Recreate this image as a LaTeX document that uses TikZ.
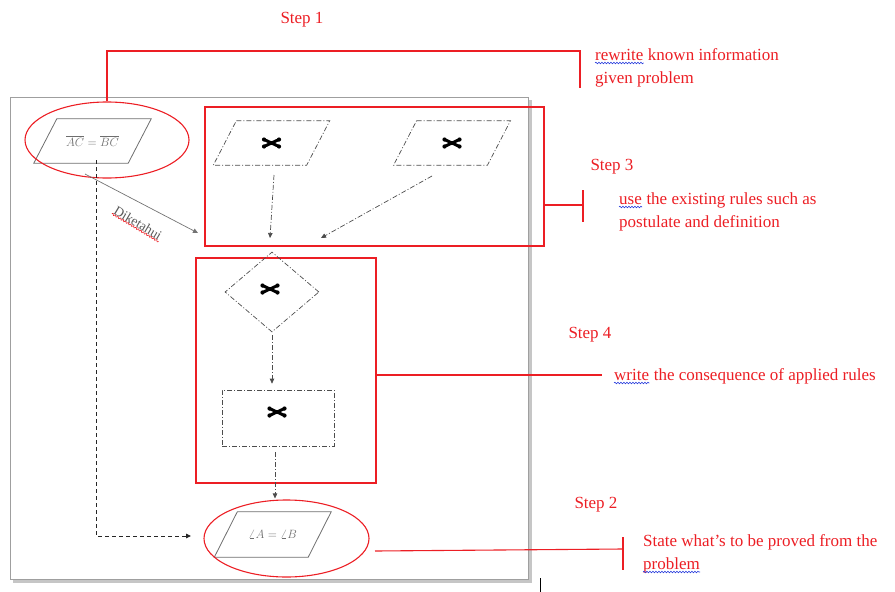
\documentclass[tikz,border=0pt]{standalone}
\usepackage{fontspec}
\setmainfont{Liberation Serif}
\usetikzlibrary{arrows.meta,shapes.geometric,decorations.pathmorphing,calc}
\definecolor{rd}{RGB}{236,30,36}
\definecolor{gr}{RGB}{110,110,110}
\definecolor{wv}{RGB}{40,60,220}
\tikzset{
  redln/.style={draw=rd, line width=1.1pt},
  lbl/.style={text=rd, font=\fontsize{17}{20}\selectfont, inner sep=0pt, anchor=base west},
  steplbl/.style={text=rd, font=\fontsize{17}{20}\selectfont, inner sep=0pt},
  ddot/.style={draw=black!70, line width=0.7pt, dash pattern=on 5pt off 2pt on 1pt off 2pt},
  pbody/.style={rectangle, minimum width=#1, minimum height=44, inner sep=0pt},
  grline/.style={draw=gr, line width=0.8pt},
  grtext/.style={text=gr, font=\fontsize{12.5}{14}\selectfont},
  redell/.style={ellipse, draw=rd, line width=1.1pt, inner sep=0pt},
  redbox/.style={rectangle, draw=rd, line width=1.1pt, inner sep=0pt},
  wavyb/.style={draw=wv, line width=0.6pt, decorate, decoration={snake, amplitude=0.8pt, segment length=3pt}},
  wavyr/.style={draw=rd, line width=0.6pt, decorate, decoration={snake, amplitude=0.8pt, segment length=3pt}},
  tip/.style={-{Triangle[length=5pt,width=4.5pt]}},
  xmark/.pic={
    \draw[line width=3pt, line cap=round] (-7.5,-3.5)--(7.5,3.5) (-7.5,3.5)--(7.5,-3.5);
    \fill (-7.5,-3.5) circle (2.1) (7.5,3.5) circle (2.1) (-7.5,3.5) circle (2.1) (7.5,-3.5) circle (2.1);
  }
}
\newcommand\drawpgram[2]{\draw[#2] ($(#1.north west)+(11.5,0)$) -- ($(#1.north east)+(11.5,0)$) -- ($(#1.south east)+(-11.5,0)$) -- ($(#1.south west)+(-11.5,0)$) -- cycle;}
\begin{document}
\begin{tikzpicture}[x=1pt,y=-1pt]
\useasboundingbox (0,0) rectangle (895,592);
% frame
\draw[gray!45, line width=3pt] (13,581) -- (530,581) -- (530,100);
\draw[gray!75, line width=0.8pt] (10,97) rectangle (528,579);
\draw[black, line width=0.8pt] (540,578) -- (540,592);

% step 1 area
\node[pbody=94, grtext] (n1) at (92.5,141) {$\overline{AC}=\overline{BC}$};
\drawpgram{n1}{grline}
\node[redell, minimum width=164, minimum height=76] (e1) at (107,140) {};

% step 3 box
\node[redbox, minimum width=339, minimum height=139] (s3) at (374.5,176.5) {};
\node[pbody=93] (pa) at (271.5,143) {};
\node[pbody=93.5] (pb) at (452,143) {};
\drawpgram{pa}{ddot}
\drawpgram{pb}{ddot}
\pic at (pa.center) {xmark};
\pic at (pb.center) {xmark};
\coordinate (a1s) at (274,175);
\coordinate (a1e) at (270,238);
\coordinate (a2s) at (432,176);
\coordinate (a2e) at (321,238);
\draw[ddot, tip] (a1s) -- (a1e);
\draw[ddot, tip] (a2s) -- (a2e);

% step 4 box
\node[redbox, minimum width=180, minimum height=225] (s4) at (286,370.5) {};
\node[diamond, ddot, minimum width=94, minimum height=80, inner sep=0pt] (dm) at (272,292) {};
\node[rectangle, ddot, minimum width=112, minimum height=56, inner sep=0pt] (rc) at (278,418) {};
\pic at (270,289) {xmark};
\pic at (277,412) {xmark};
\draw[ddot, tip, shorten <=3pt, shorten >=6pt] (dm.south) -- (dm.south |- rc.north);

% step 2
\node[pbody=93.5, minimum height=45, grtext] (p2) at (272.75,534.5) {$\angle A=\angle B$};
\drawpgram{p2}{grline}
\node[redell, minimum width=165, minimum height=77] (e2) at (286.5,538.5) {};
\draw[ddot, tip, shorten <=6pt, shorten >=1pt] (rc.south -| 275,0) -- (e2.north -| 275,0);

% known (Diketahui) arrows
\coordinate (d0) at (96,160);
\coordinate (d1) at (191,536);
\draw[black!85, line width=0.9pt, dash pattern=on 4pt off 3pt, tip] (d0) |- (d1);
\coordinate (k0) at (85,174);
\coordinate (k1) at (198,233);
\draw[gray!90!black, line width=0.7pt, tip] (k0) -- (k1);
\node[rotate=-31, inner sep=0.5pt, text=black!65, font=\fontsize{13.5}{15}\selectfont] (dk) at (138,223) {Diketahui};
\draw[wavyr] (dk.south west) -- (dk.south east);

% red callouts
\coordinate (t1a) at (580,51);
\coordinate (t1b) at (580,88);
\draw[redln] (e1.north) |- (t1a) -- (t1b);
\node[steplbl] (st1) at (302,20) {Step 1};
\node[lbl] (rw) at (595,60) {rewrite};
\node[lbl] (rw2) at (rw.base east) {\ known information};
\node[lbl] (rw3) at (595,83) {given problem};
\draw[wavyb] ($(rw.base west)+(0,3)$) -- ($(rw.base east)+(0,3)$);

\coordinate (t3) at (583,205);
\draw[redln] (s3.east |- t3) -- (t3);
\draw[redln] (583,190) -- (583,222);
\node[steplbl] (st3) at (612,167) {Step 3};
\node[lbl] (us) at (619,204) {use};
\node[lbl] (us2) at (us.base east) {\ the existing rules such as};
\node[lbl] (us3) at (619,227) {postulate and definition};
\draw[wavyb] ($(us.base west)+(0,3)$) -- ($(us.base east)+(0,3)$);

\coordinate (t4) at (602,375);
\draw[redln] (s4.east |- t4) -- (t4);
\node[steplbl] (st4) at (590,335) {Step 4};
\node[lbl] (wr) at (614,380) {write};
\node[lbl] (wr2) at (wr.base east) {\ the consequence of applied rules};
\draw[wavyb] ($(wr.base west)+(0,3)$) -- ($(wr.base east)+(0,3)$);

\coordinate (t2s) at (375,551);
\coordinate (t2) at (623,549);
\draw[redln] (t2s) -- (t2);
\draw[redln] (623,537) -- (623,570);
\node[steplbl] (st2) at (596,505) {Step 2};
\node[lbl] (sw) at (643,546) {State what’s to be proved from the};
\node[lbl] (pr) at (643,569) {problem};
\draw[wavyb] ($(pr.base west)+(0,3)$) -- ($(pr.base east)+(0,3)$);
\end{tikzpicture}
\end{document}
